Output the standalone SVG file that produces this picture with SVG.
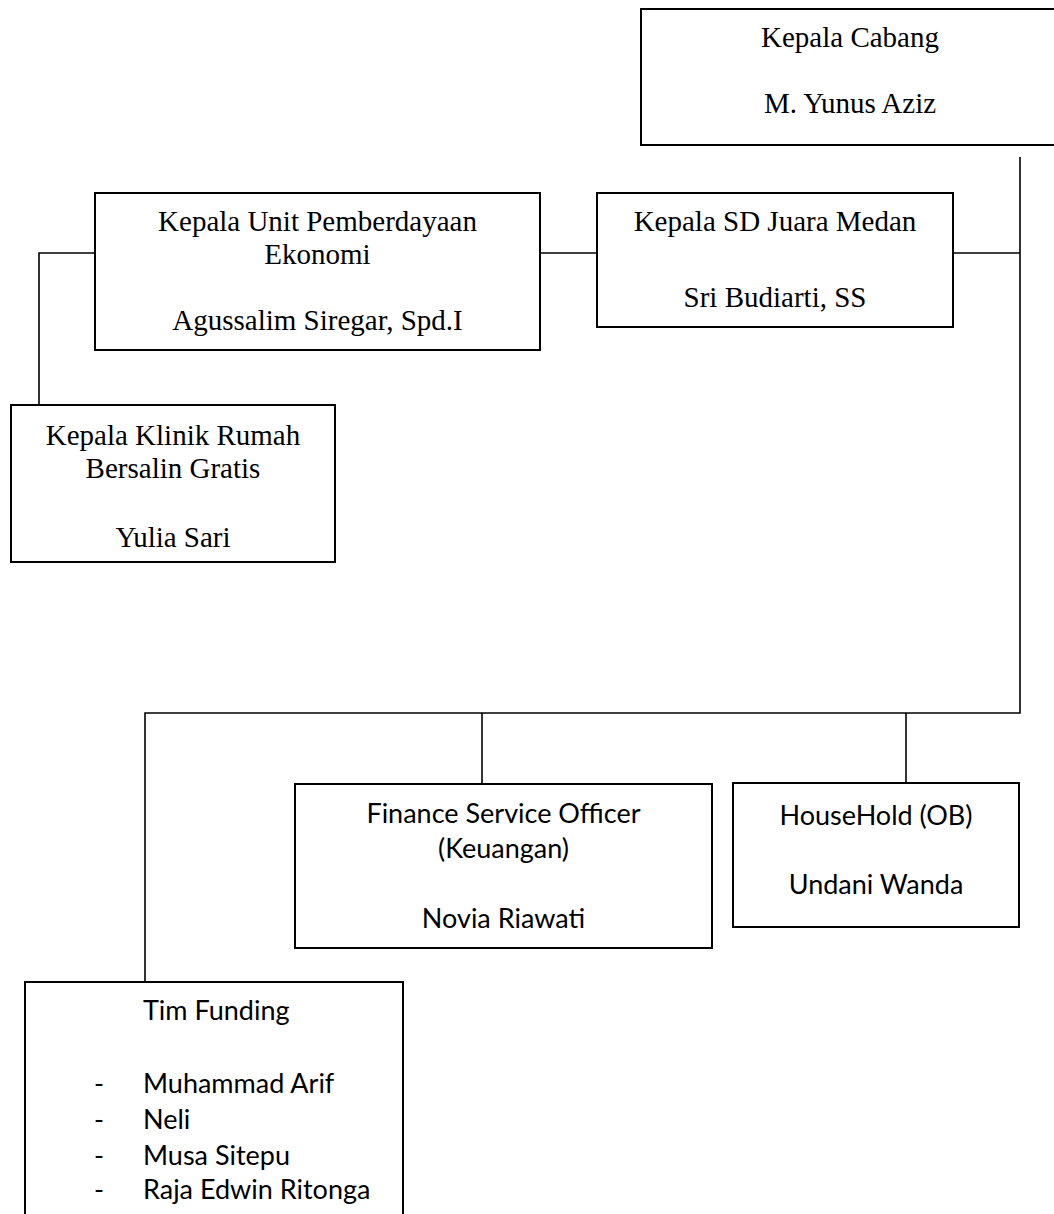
<svg xmlns="http://www.w3.org/2000/svg" width="1054" height="1214" viewBox="0 0 1054 1214">
<style>
.box{fill:#fff;stroke:#000;stroke-width:2}
.ln{fill:none;stroke:#000;stroke-width:1.6}
.serif{font-family:"Liberation Serif","Times New Roman",serif;font-size:29px;fill:#000;text-anchor:middle}
.sans{font-family:Lato,"Open Sans",sans-serif;font-size:27px;fill:#000}
.mid{text-anchor:middle}
</style>
<rect width="1054" height="1214" fill="#fff"/>
<g id="connectors">
<polyline class="ln" points="1020,157 1020,713 145,713 145,982"/>
<line class="ln" x1="953" y1="253" x2="1020" y2="253"/>
<line class="ln" x1="540" y1="253" x2="597" y2="253"/>
<polyline class="ln" points="95,253 39,253 39,405"/>
<line class="ln" x1="482" y1="713" x2="482" y2="784"/>
<line class="ln" x1="906" y1="713" x2="906" y2="783"/>
</g>
<g id="kepala-cabang">
<rect class="box" x="641" y="9" width="420" height="136"/>
<text class="serif" x="850" y="47">Kepala Cabang</text>
<text class="serif" x="850" y="113">M. Yunus Aziz</text>
</g>
<g id="unit-pemberdayaan">
<rect class="box" x="95" y="193" width="445" height="157"/>
<text class="serif" x="317.5" y="231">Kepala Unit Pemberdayaan</text>
<text class="serif" x="317.5" y="264">Ekonomi</text>
<text class="serif" x="317.5" y="330">Agussalim Siregar, Spd.I</text>
</g>
<g id="sd-juara">
<rect class="box" x="597" y="193" width="356" height="134"/>
<text class="serif" x="775" y="231">Kepala SD Juara Medan</text>
<text class="serif" x="775" y="307">Sri Budiarti, SS</text>
</g>
<g id="klinik">
<rect class="box" x="11" y="405" width="324" height="157"/>
<text class="serif" x="173" y="445">Kepala Klinik Rumah</text>
<text class="serif" x="173" y="478">Bersalin Gratis</text>
<text class="serif" x="173" y="547">Yulia Sari</text>
</g>
<g id="finance">
<rect class="box" x="295" y="784" width="417" height="164"/>
<text class="sans mid" x="503.5" y="823">Finance Service Officer</text>
<text class="sans mid" x="503.5" y="858">(Keuangan)</text>
<text class="sans mid" x="503.5" y="928">Novia Riawati</text>
</g>
<g id="household">
<rect class="box" x="733" y="783" width="286" height="144"/>
<text class="sans mid" x="876" y="825">HouseHold (OB)</text>
<text class="sans mid" x="876" y="894">Undani Wanda</text>
</g>
<g id="tim-funding">
<rect class="box" x="25" y="982" width="378" height="250"/>
<text class="sans" x="143" y="1020">Tim Funding</text>
<text class="sans" x="94" y="1093">-</text>
<text class="sans" x="143" y="1093">Muhammad Arif</text>
<text class="sans" x="94" y="1129">-</text>
<text class="sans" x="143" y="1129">Neli</text>
<text class="sans" x="94" y="1165">-</text>
<text class="sans" x="143" y="1165">Musa Sitepu</text>
<text class="sans" x="94" y="1199">-</text>
<text class="sans" x="143" y="1199">Raja Edwin Ritonga</text>
</g>
</svg>
